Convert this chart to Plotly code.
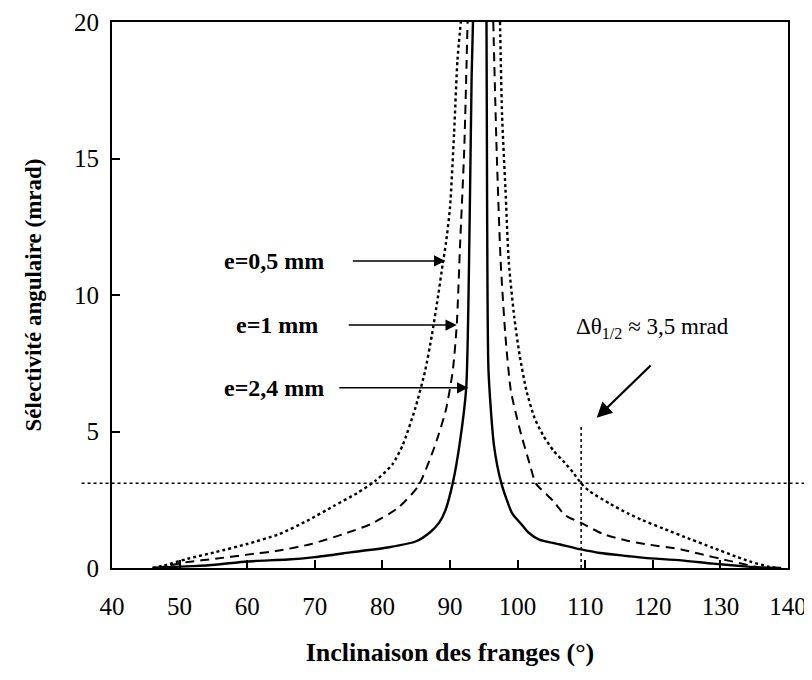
import plotly.graph_objects as go

# -----------------------------
# Data
# -----------------------------
# e = 2,4 mm (solid)
x_24_left = [46, 48, 52, 55.3, 60, 66, 70, 75.5, 81, 85, 87.1, 88.4, 89.3, 90.4, 91.4, 92.4, 92.9, 93.2, 93.4]
y_24_left = [0, 0.03, 0.07, 0.12, 0.24, 0.31, 0.40, 0.58, 0.76, 0.98, 1.32, 1.66, 2.1, 3.1, 4.5, 6.6, 12.6, 18.0, 20]
x_24_right = [95.4, 95.5, 95.7, 96.5, 97.6, 99.2, 100.5, 101.6, 103.2, 106.3, 109.4, 112.2, 116.2, 118.8, 124.2, 128.9, 133.6, 136, 139]
y_24_right = [20, 12.6, 7.2, 4.5, 3.1, 2.0, 1.62, 1.3, 1.04, 0.86, 0.68, 0.55, 0.44, 0.37, 0.28, 0.16, 0.06, 0.02, 0]

# e = 1 mm (dashed)
x_1_left = [46.5, 47.8, 51.2, 55.3, 60, 64.7, 69.5, 74.2, 78.2, 82.3, 85.3, 87.8, 89.4, 90.4, 91.0, 91.5, 92.1, 92.6]
y_1_left = [0, 0.06, 0.22, 0.34, 0.49, 0.64, 0.88, 1.24, 1.6, 2.2, 3.0, 4.5, 5.8, 7.2, 8.9, 11.9, 15.3, 20]
x_1_right = [96.4, 96.9, 97.5, 98.2, 99.0, 100.3, 101.8, 102.7, 105.3, 107.0, 109.4, 112.6, 116.2, 118.8, 124.2, 126.9, 131, 134.3, 136]
y_1_right = [20, 15.3, 11.2, 8.5, 6.5, 5.1, 3.8, 3.1, 2.45, 1.94, 1.65, 1.25, 1.0, 0.88, 0.68, 0.52, 0.28, 0.1, 0]

# e = 0,5 mm (dotted)
x_05_left = [46, 47.8, 51.2, 55.3, 60, 64.7, 68.8, 72.8, 76.3, 79, 81.5, 83.0, 84.8, 86.3, 87.3, 88.2, 88.9, 89.4, 90.0, 90.6, 91.1, 91.6]
y_05_left = [0, 0.1, 0.34, 0.58, 0.88, 1.24, 1.72, 2.27, 2.75, 3.2, 3.8, 4.5, 5.8, 7.2, 8.5, 9.9, 11.1, 11.9, 13.2, 15.9, 18.6, 20]
x_05_right = [97.4, 97.7, 98.2, 98.7, 99.5, 100.3, 101.3, 102.5, 103.8, 105.3, 107.0, 108.2, 109.4, 110.7, 113.7, 116.3, 118.5, 121.5, 125.5, 128.9, 132.3, 134.3, 137, 138.5]
y_05_right = [20, 16.6, 13.9, 11.2, 9.2, 7.8, 6.5, 5.5, 4.85, 4.3, 3.85, 3.5, 3.1, 2.8, 2.35, 2.0, 1.75, 1.45, 1.06, 0.74, 0.42, 0.24, 0.06, 0]

# half-width marker
half_level = 3.1
half_angle = 109.4
half_top = 5.2

x_ticks = [40, 50, 60, 70, 80, 90, 100, 110, 120, 130, 140]
y_ticks = [0, 5, 10, 15, 20]

FONT = "Liberation Serif"


def branch(xl, yl, xr, yr):
    # join both branches with a gap so nothing crosses the top
    return xl + [None] + xr, yl + [None] + yr


fig = go.Figure()

curves = [
    (x_05_left, y_05_left, x_05_right, y_05_right, "dot", 2.4),
    (x_1_left, y_1_left, x_1_right, y_1_right, "9px,6px", 2.0),
    (x_24_left, y_24_left, x_24_right, y_24_right, "solid", 2.4),
]
for xl, yl, xr, yr, dash, w in curves:
    xs, ys = branch(xl, yl, xr, yr)
    fig.add_trace(go.Scatter(
        x=xs, y=ys, mode="lines", connectgaps=False,
        line=dict(color="black", width=w, dash=dash, shape="spline", smoothing=0.6),
        showlegend=False,
    ))

# -----------------------------
# Dotted guide lines
# -----------------------------
fig.add_shape(type="line", xref="paper", yref="y",
              x0=-0.045, x1=1.04, y0=half_level, y1=half_level,
              line=dict(color="black", width=1.5, dash="dot"))
fig.add_shape(type="line", xref="x", yref="y",
              x0=half_angle, x1=half_angle, y0=0, y1=half_top,
              line=dict(color="black", width=1.5, dash="dot"))

# -----------------------------
# Labels and arrows
# -----------------------------
labels = [
    ("e=0,5 mm", 64.0, 11.25, 75.4, 89.3),
    ("e=1 mm", 64.4, 8.9, 74.8, 91.0),
    ("e=2,4 mm", 64.0, 6.6, 73.4, 92.7),
]
for text, tx, ty, ax, hx in labels:
    fig.add_annotation(x=tx, y=ty, text=f"<b>{text}</b>", showarrow=False,
                       font=dict(family=FONT, size=24, color="black"))
    fig.add_annotation(x=hx, y=ty, ax=ax, ay=ty, axref="x", ayref="y",
                       text="", showarrow=True, arrowhead=2, arrowsize=1.5,
                       arrowwidth=1.5, arrowcolor="black")

fig.add_annotation(x=120.0, y=8.8,
                   text="Δθ<sub>1/2</sub> ≈ 3,5 mrad", showarrow=False,
                   font=dict(family=FONT, size=23, color="black"))
fig.add_annotation(x=111.7, y=5.5, ax=119.9, ay=7.47, axref="x", ayref="y",
                   text="", showarrow=True, arrowhead=2, arrowsize=1.4,
                   arrowwidth=2.2, arrowcolor="black")

# -----------------------------
# Axes
# -----------------------------
axis_style = dict(
    showline=True, linecolor="black", linewidth=2, mirror=True,
    ticks="inside", ticklen=8, tickcolor="black", tickwidth=1.5,
    showgrid=False, zeroline=False,
    tickfont=dict(family=FONT, size=25, color="black"),
)
fig.update_xaxes(range=[40, 140], tickvals=x_ticks, ticklabelstandoff=15,
                 title=dict(text="<b>Inclinaison des franges (°)</b>",
                            font=dict(family=FONT, size=26, color="black"),
                            standoff=24),
                 **axis_style)
fig.update_yaxes(range=[0, 20], tickvals=y_ticks, ticklabelstandoff=6,
                 title=dict(text="<b>Sélectivité angulaire (mrad)</b>",
                            font=dict(family=FONT, size=23, color="black"),
                            standoff=26),
                 **axis_style)

# body margin of the page shifts the figure by 8 px, margins account for it
fig.update_layout(
    width=812, height=680,
    margin=dict(l=104, r=32, t=14, b=120, autoexpand=False),
    plot_bgcolor="white", paper_bgcolor="white",
)

fig.write_html("out.html")
